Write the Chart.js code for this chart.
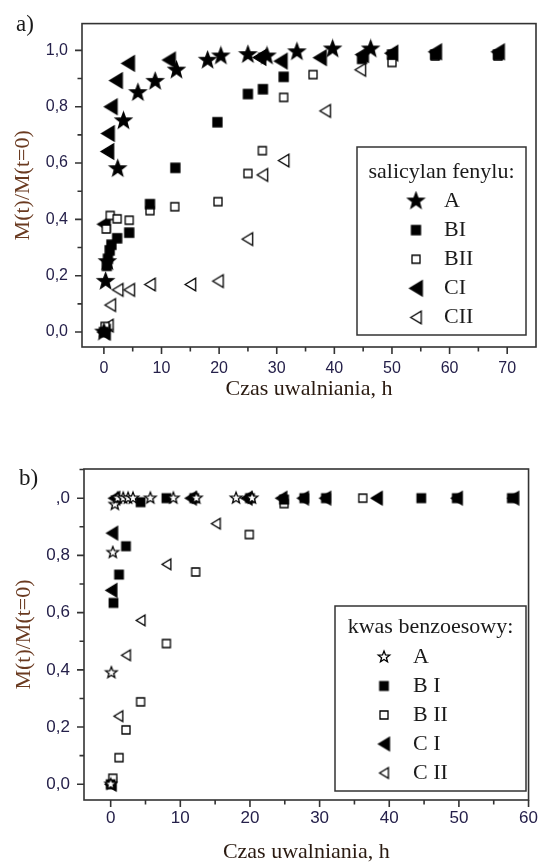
<!DOCTYPE html>
<html>
<head>
<meta charset="utf-8">
<title>Czas uwalniania</title>
<script src="https://cdn.jsdelivr.net/npm/chart.js"></script>
<style>
  html, body { margin: 0; padding: 0; background: #fff; }
  body { width: 546px; height: 863px; position: relative; overflow: hidden; }
  .panel { position: absolute; left: 0; width: 546px; }
  .tag { position: absolute; font-family: "Liberation Serif", serif; font-size: 23px; line-height: 1; color: #1a1a1a; }
</style>
</head>
<body>
<div class="panel" style="top:0;height:430px"><canvas id="chartA"></canvas></div>
<div class="panel" style="top:430px;height:433px"><canvas id="chartB"></canvas></div>
<div class="tag" style="left:16px;top:12px">a)</div>
<div class="tag" style="left:19px;top:466px">b)</div>
<script>
// a) salicylan fenylu
const aLabels = ['A', 'BI', 'BII', 'CI', 'CII'];
const aTimeA = [0, 0.3, 0.6, 2.4, 3.4, 5.9, 8.9, 12.6, 18.0, 20.3, 25.0, 28.3, 33.5, 39.7, 46.3];
const aValA = [0, 0.18, 0.25, 0.58, 0.75, 0.85, 0.89, 0.93, 0.965, 0.98, 0.985, 0.98, 0.995, 1.005, 1.005];
const aTimeBI = [0, 0.5, 0.7, 1.0, 1.3, 2.3, 4.4, 8.0, 12.4, 19.7, 25.0, 27.6, 31.2, 44.8, 50.0, 57.5, 68.4];
const aValBI = [0, 0.235, 0.26, 0.29, 0.31, 0.333, 0.353, 0.454, 0.583, 0.745, 0.845, 0.862, 0.906, 0.97, 0.985, 0.985, 0.985];
const aTimeBII = [0.2, 0.4, 1.1, 2.3, 4.4, 8.0, 12.3, 19.8, 25.0, 27.5, 31.2, 36.3, 50.0, 57.5, 68.4];
const aValBII = [0.02, 0.366, 0.414, 0.402, 0.397, 0.431, 0.445, 0.463, 0.563, 0.644, 0.833, 0.914, 0.957, 0.98, 0.98];
const aTimeCI = [0, 0, 0.6, 0.7, 1.2, 2.1, 4.2, 11.3, 27.0, 30.7, 37.5, 44.8, 49.9, 57.5, 68.4];
const aValCI = [0, 0.383, 0.641, 0.705, 0.80, 0.893, 0.954, 0.966, 0.975, 0.962, 0.974, 0.985, 0.99, 0.995, 0.995];
const aTimeCII = [0, 0.7, 1.1, 2.4, 4.4, 8.0, 15.0, 19.8, 24.9, 27.5, 31.2, 38.4, 44.5];
const aValCII = [0, 0.023, 0.096, 0.15, 0.15, 0.169, 0.169, 0.181, 0.33, 0.558, 0.609, 0.785, 0.931];

// b) kwas benzoesowy
const bLabels = ['A', 'B I', 'B II', 'C I', 'C II'];
const bTimeA = [0, 0.1, 0.3, 0.6, 1.0, 1.8, 2.5, 3.2, 5.7, 9.0, 12.3, 18.0, 20.3];
const bValA = [0, 0.39, 0.81, 0.978, 1.0, 1.0, 1.0, 1.0, 1.0, 1.0, 1.0, 1.0, 1.0];
const bTimeBI = [0, 0.4, 1.2, 2.2, 4.3, 8.0, 12.0, 20.0, 24.9, 27.8, 30.9, 44.6, 49.7, 57.6];
const bValBI = [0, 0.634, 0.733, 0.832, 0.986, 1.0, 1.0, 1.0, 0.995, 1.0, 1.0, 1.0, 1.0, 1.0];
const bTimeBII = [0.3, 1.2, 2.2, 4.3, 8.0, 12.2, 19.9, 24.9, 36.2];
const bValBII = [0.021, 0.093, 0.19, 0.288, 0.492, 0.742, 0.873, 0.981, 1.0];
const bTimeCI = [0, 0.1, 0.2, 0.5, 11.5, 19.5, 24.5, 27.6, 30.8, 38.2, 49.7, 57.8];
const bValCI = [0, 0.678, 0.878, 1.0, 1.0, 1.0, 1.0, 1.0, 1.0, 1.0, 1.0, 1.0];
const bTimeCII = [0, 1.1, 2.2, 4.3, 8.0, 15.1, 38.2];
const bValCII = [0, 0.238, 0.451, 0.573, 0.769, 0.911, 1.0];

// ticks
const yTicks = [0, 0.2, 0.4, 0.6, 0.8, 1.0];
const yTickTextA = ['0,0', '0,2', '0,4', '0,6', '0,8', '1,0'];
const yTickTextB = ['0,0', '0,2', '0,4', '0,6', '0,8', ',0'];
const xTicksA = [0, 10, 20, 30, 40, 50, 60, 70];
const xTicksB = [0, 10, 20, 30, 40, 50, 60];

// marker images (star / square / left triangle)
function marker(kind, size, filled) {
  const c = document.createElement('canvas');
  c.width = c.height = Math.ceil(size) + 4;
  const g = c.getContext('2d');
  const m = c.width / 2;
  g.beginPath();
  if (kind === 'star') {
    for (let i = 0; i < 10; i++) {
      const r = i % 2 ? size * 0.21 : size / 2;
      const ang = -Math.PI / 2 + i * Math.PI / 5;
      g.lineTo(m + r * Math.cos(ang), m + r * Math.sin(ang));
    }
  } else if (kind === 'square') {
    g.rect(m - size / 2, m - size / 2, size, size);
  } else {
    g.moveTo(m - size * 0.42, m);
    g.lineTo(m + size * 0.42, m - size / 2);
    g.lineTo(m + size * 0.42, m + size / 2);
  }
  g.closePath();
  g.lineWidth = 1.3;
  g.strokeStyle = '#000';
  g.fillStyle = filled ? '#000' : '#fff';
  g.fill();
  g.stroke();
  return c;
}

const markersA = [marker('star', 17, true), marker('square', 9, true), marker('square', 8, false),
                  marker('tri', 15, true), marker('tri', 12.5, false)];
const markersB = [marker('star', 12, false), marker('square', 8.5, true), marker('square', 8, false),
                  marker('tri', 13, true), marker('tri', 10.5, false)];

function pairs(xs, ys) { return xs.map((x, i) => ({ x: x, y: ys[i] })); }

// frame, minor/major tick marks and the boxed legend
const framePlugin = {
  id: 'frame',
  afterDraw(chart, args, o) {
    const { ctx, chartArea: a, scales: { x, y } } = chart;
    ctx.save();
    ctx.strokeStyle = '#333';
    ctx.lineWidth = 1.6;
    ctx.strokeRect(a.left, a.top, a.right - a.left, a.bottom - a.top);
    ctx.beginPath();
    x.ticks.forEach(t => {
      const p = x.getPixelForValue(t.value);
      ctx.moveTo(p, a.bottom); ctx.lineTo(p, a.bottom + 7);
      const mid = t.value + 5;
      if (mid < x.max) {
        const pm = x.getPixelForValue(mid);
        ctx.moveTo(pm, a.bottom); ctx.lineTo(pm, a.bottom + 4.5);
      }
    });
    y.ticks.forEach(t => {
      const p = y.getPixelForValue(t.value);
      ctx.moveTo(a.left, p); ctx.lineTo(a.left - 7, p);
      const mid = t.value + 0.1;
      if (mid < y.max) {
        const pm = y.getPixelForValue(mid);
        ctx.moveTo(a.left, pm); ctx.lineTo(a.left - 4.5, pm);
      }
    });
    ctx.stroke();

    // legend
    const b = o.box;
    ctx.lineWidth = 1.5;
    ctx.strokeRect(b[0], b[1], b[2] - b[0], b[3] - b[1]);
    ctx.fillStyle = '#1a1a1a';
    ctx.font = '22px "Liberation Serif", serif';
    ctx.textBaseline = 'middle';
    ctx.textAlign = 'center';
    ctx.fillText(o.title, (b[0] + b[2]) / 2, o.titleY);
    ctx.textAlign = 'left';
    chart.data.datasets.forEach((ds, i) => {
      const yy = o.itemY + i * o.itemStep;
      const img = ds.pointStyle;
      ctx.drawImage(img, o.markX - img.width / 2, yy - img.height / 2);
      ctx.fillText(ds.label, o.textX, yy);
    });
    ctx.restore();
  }
};

function makeChart(id, cfg) {
  const datasets = cfg.series.map((s, i) => ({
    label: cfg.labels[i],
    data: pairs(s[0], s[1]),
    pointStyle: cfg.markers[i],
    pointRadius: 6,
    pointHoverRadius: 6,
    showLine: false
  }));
  return new Chart(document.getElementById(id), {
    type: 'scatter',
    data: { datasets: datasets },
    plugins: [framePlugin],
    options: {
      responsive: true,
      maintainAspectRatio: false,
      animation: false,
      events: [],
      layout: { padding: cfg.padding },
      plugins: {
        legend: { display: false },
        tooltip: { enabled: false },
        frame: cfg.legend
      },
      scales: {
        x: {
          type: 'linear',
          min: cfg.xMin, max: cfg.xMax,
          afterBuildTicks: s => { s.ticks = cfg.xTicks.map(v => ({ value: v })); },
          afterFit: s => { s.height = cfg.xAxisHeight; },
          grid: { display: false, drawTicks: false },
          border: { display: false },
          ticks: {
            padding: cfg.xTickPad,
            color: '#25204a',
            font: { family: '"Liberation Sans", Arial, sans-serif', size: cfg.tickSize },
            callback: v => String(v)
          },
          title: {
            display: true,
            text: 'Czas uwalniania, h',
            color: '#2a1a10',
            font: { family: '"Liberation Serif", serif', size: 22, lineHeight: 1 },
            padding: { top: 0, bottom: cfg.xTitlePad }
          }
        },
        y: {
          type: 'linear',
          min: cfg.yMin, max: cfg.yMax,
          afterBuildTicks: s => { s.ticks = yTicks.map(v => ({ value: v })); },
          afterFit: s => { s.width = cfg.yAxisWidth; },
          grid: { display: false, drawTicks: false },
          border: { display: false },
          ticks: {
            padding: 14,
            color: '#25204a',
            font: { family: '"Liberation Sans", Arial, sans-serif', size: cfg.tickSize },
            callback: (v, i) => cfg.yText[i]
          },
          title: {
            display: true,
            text: 'M(t)/M(t=0)',
            color: '#6a3a20',
            font: { family: '"Liberation Serif", serif', size: 22, lineHeight: 1 },
            padding: { top: cfg.yTitlePad, bottom: 0 }
          }
        }
      }
    }
  });
}

makeChart('chartA', {
  labels: aLabels,
  series: [[aTimeA, aValA], [aTimeBI, aValBI], [aTimeBII, aValBII], [aTimeCI, aValCI], [aTimeCII, aValCII]],
  markers: markersA,
  padding: { left: 0, right: 10, top: 13, bottom: 0 },
  xMin: -3.8, xMax: 75, yMin: -0.053, yMax: 1.095,
  xTicks: xTicksA, yText: yTickTextA,
  xAxisHeight: 83, yAxisWidth: 82,
  xTickPad: 12, tickSize: 16,
  xTitlePad: 30, yTitlePad: 12,
  legend: { box: [357, 147, 526, 335], title: 'salicylan fenylu:', titleY: 172,
            itemY: 201, itemStep: 29.1, markX: 416, textX: 444 }
});

makeChart('chartB', {
  labels: bLabels,
  series: [[bTimeA, bValA], [bTimeBI, bValBI], [bTimeBII, bValBII], [bTimeCI, bValCI], [bTimeCII, bValCII]],
  markers: markersB,
  padding: { left: 0, right: 10, top: 39, bottom: 0 },
  xMin: -3.83, xMax: 60, yMin: -0.055, yMax: 1.102,
  xTicks: xTicksB, yText: yTickTextB,
  xAxisHeight: 63, yAxisWidth: 84,
  xTickPad: 8, tickSize: 17,
  xTitlePad: 0, yTitlePad: 13,
  legend: { box: [335, 176, 526, 361], title: 'kwas benzoesowy:', titleY: 197,
            itemY: 227, itemStep: 29, markX: 384, textX: 413 }
});
</script>
</body>
</html>
